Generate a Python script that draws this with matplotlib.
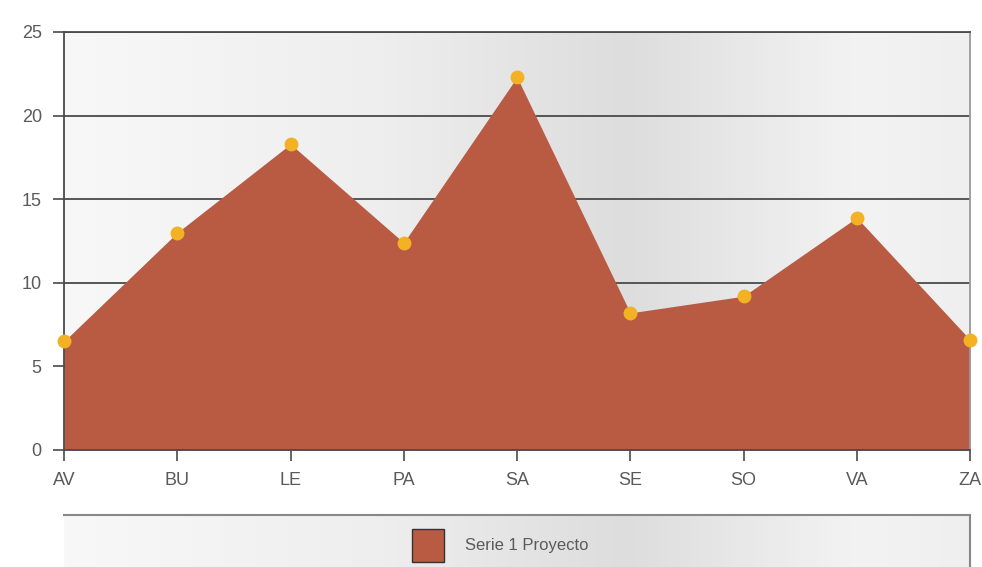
import numpy as np
import matplotlib
matplotlib.use("Agg")
import matplotlib.pyplot as plt
from matplotlib.colors import LinearSegmentedColormap
from matplotlib.patches import Rectangle

categories = ["AV", "BU", "LE", "PA", "SA", "SE", "SO", "VA", "ZA"]
values = [6.5, 13.0, 18.3, 12.4, 22.3, 8.2, 9.2, 13.9, 6.6]
y_ticks = [0, 5, 10, 15, 20, 25]
series_name = "Serie 1 Proyecto"

area_color = "#b95a42"
marker_color = "#f2b224"
text_color = "#5a5a5a"
grid_color = "#4a4a4a"

plt.rcParams["font.family"] = ["Liberation Sans", "DejaVu Sans"]

fig = plt.figure(figsize=(9.82, 5.67), dpi=100)
fig.patch.set_facecolor("white")

# soft horizontal gradient used as plot background
bg_cmap = LinearSegmentedColormap.from_list(
    "bg", [(0.0, "#f8f8f8"), (0.35, "#eeeeee"), (0.62, "#dddddd"), (0.88, "#f3f3f3"), (1.0, "#efefef")]
)
grad = np.linspace(0, 1, 256).reshape(1, -1)

ax = fig.add_axes([64 / 982, 1 - 450 / 567, (970 - 64) / 982, (450 - 32) / 567])
x = np.arange(len(categories))
ax.imshow(grad, cmap=bg_cmap, aspect="auto", extent=[0, len(categories) - 1, 0, 25], zorder=0)

for yv in y_ticks[1:]:
    ax.axhline(yv, color=grid_color, lw=1.3, zorder=1)

ax.fill_between(x, 0, values, color=area_color, lw=0, zorder=2)
ax.plot(x, values, "o", color=marker_color, ms=9, mec=marker_color, zorder=3, clip_on=False)

ax.set_xlim(0, len(categories) - 1)
ax.set_ylim(0, 25)
ax.set_xticks(x)
ax.set_xticklabels(categories)
ax.set_yticks(y_ticks)
ax.set_yticklabels([str(v) for v in y_ticks])
ax.tick_params(axis="both", colors=grid_color, labelcolor=text_color, labelsize=13,
               length=8, width=1.2, direction="out")
ax.tick_params(axis="x", pad=8)
ax.tick_params(axis="y", pad=8)
for side in ["left", "bottom", "right", "top"]:
    ax.spines[side].set_color(grid_color)
    ax.spines[side].set_linewidth(1.3)
ax.spines["right"].set_color("#999999")

# legend panel below the chart
lax = fig.add_axes([64 / 982, 0, (970 - 64) / 982, (567 - 515) / 567])
lax.imshow(grad, cmap=bg_cmap, aspect="auto", extent=[0, 1, 0, 1], zorder=0)
lax.set_xlim(0, 1)
lax.set_ylim(0, 1)
lax.set_xticks([])
lax.set_yticks([])
for side in ["left", "bottom"]:
    lax.spines[side].set_visible(False)
lax.spines["top"].set_color("#888888")
lax.spines["top"].set_linewidth(1.5)
lax.spines["right"].set_color("#888888")
lax.spines["right"].set_linewidth(1.5)
sw_x0 = (412 - 64) / 906
sw_w = 32 / 906
lax.add_patch(Rectangle((sw_x0, 0.1), sw_w, 0.64, facecolor=area_color,
                        edgecolor="#333333", lw=1.0, transform=lax.transAxes, zorder=2))
lax.text((465 - 64) / 906, 0.42, series_name, transform=lax.transAxes,
         fontsize=12, color=text_color, va="center", ha="left")

fig.savefig("out.png", dpi=100, facecolor="white")
